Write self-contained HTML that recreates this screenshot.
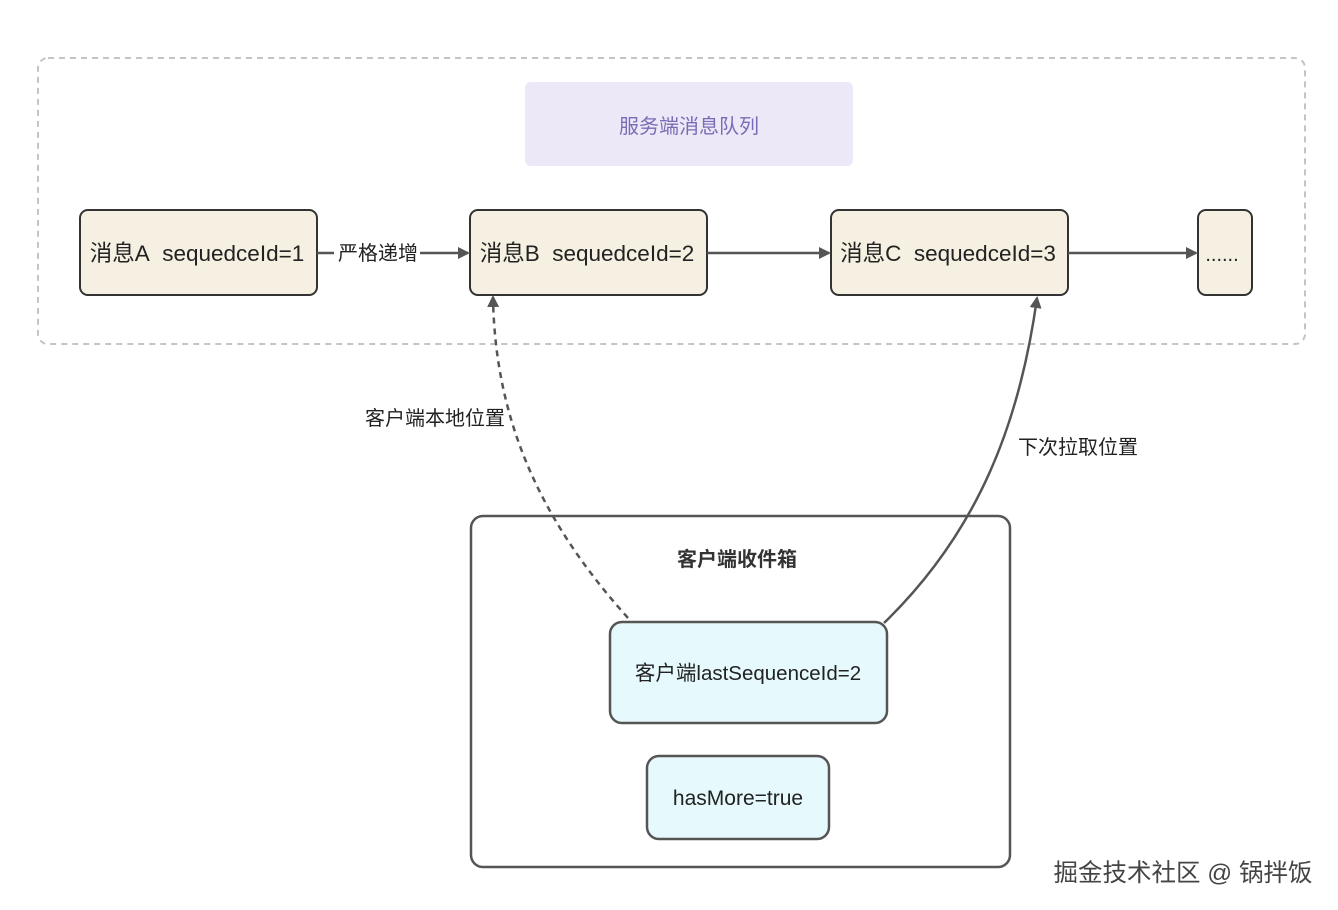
<!DOCTYPE html>
<html><head><meta charset="utf-8"><style>
html,body{margin:0;padding:0;background:#fff;}
svg{display:block;font-family:"Liberation Sans","Noto Sans CJK SC",sans-serif;}
</style></head><body>
<svg width="1338" height="910" viewBox="0 0 1338 910" xmlns="http://www.w3.org/2000/svg">
<defs>
<marker id="ah" markerWidth="12" markerHeight="12" refX="10" refY="6" orient="auto" markerUnits="userSpaceOnUse">
<path d="M0,0 L12,6 L0,12 Z" fill="#555"/>
</marker>
</defs>
<rect x="38" y="58" width="1267" height="286" rx="10" fill="none" stroke="#c4c4c4" stroke-width="2" stroke-dasharray="6,5"/>
<rect x="525" y="82" width="328" height="84" rx="6" fill="#ece8f8"/>
<text x="689" y="133" font-size="20" fill="#7b6bb5" text-anchor="middle">服务端消息队列</text>

<g fill="#f5f0e1" stroke="#333" stroke-width="2">
<rect x="80" y="210" width="237" height="85" rx="8"/>
<rect x="470" y="210" width="237" height="85" rx="8"/>
<rect x="831" y="210" width="237" height="85" rx="8"/>
<rect x="1198" y="210" width="54" height="85" rx="8"/>
</g>
<g font-size="22.5" fill="#222" text-anchor="middle">
<text x="197" y="261">消息A&#160;&#160;sequedceId=1</text>
<text x="587" y="261">消息B&#160;&#160;sequedceId=2</text>
<text x="948" y="261">消息C&#160;&#160;sequedceId=3</text>
<text x="1222" y="261" font-size="20">......</text>
</g>

<rect x="471" y="516" width="539" height="351" rx="12" fill="#fff" stroke="#555" stroke-width="2.5"/>
<text x="737" y="566" font-size="20" font-weight="bold" fill="#333" text-anchor="middle">客户端收件箱</text>

<g stroke="#555" stroke-width="2.5" fill="none">
<line x1="317" y1="253" x2="334" y2="253"/>
<line x1="420" y1="253" x2="468" y2="253" marker-end="url(#ah)"/>
<line x1="707" y1="253" x2="829" y2="253" marker-end="url(#ah)"/>
<line x1="1068" y1="253" x2="1196" y2="253" marker-end="url(#ah)"/>
<path d="M628,618 C540,520 495,420 493,297" stroke-dasharray="6,5" marker-end="url(#ah)"/>
<path d="M884,623 C980,530 1020,420 1037,298" marker-end="url(#ah)"/>
</g>
<text x="378" y="260" font-size="20" fill="#222" text-anchor="middle">严格递增</text>
<text x="435" y="425" font-size="20" fill="#222" text-anchor="middle">客户端本地位置</text>
<text x="1078" y="454" font-size="20" fill="#222" text-anchor="middle">下次拉取位置</text>

<rect x="610" y="622" width="277" height="101" rx="12" fill="#e6f9fd" stroke="#555" stroke-width="2.5"/>
<text x="748" y="680" font-size="20.5" fill="#222" text-anchor="middle">客户端lastSequenceId=2</text>
<rect x="647" y="756" width="182" height="83" rx="12" fill="#e6f9fd" stroke="#555" stroke-width="2.5"/>
<text x="738" y="805" font-size="21" fill="#222" text-anchor="middle">hasMore=true</text>

<text x="1183" y="881" font-size="24.5" fill="#444" text-anchor="middle" stroke="#fff" stroke-width="3" paint-order="stroke">掘金技术社区 @ 锅拌饭</text>
</svg>
</body></html>
